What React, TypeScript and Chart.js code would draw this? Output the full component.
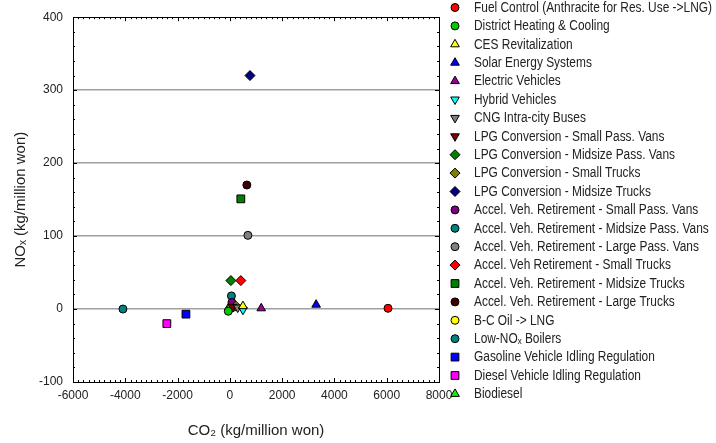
import { useEffect, useRef } from 'react';
import { Chart, registerables } from 'chart.js';
import { drawPoint } from 'chart.js/helpers';

Chart.register(...registerables);

const seriesNames = [
  'Fuel Control (Anthracite for Res. Use ->LNG)',
  'District Heating & Cooling',
  'CES Revitalization',
  'Solar Energy Systems',
  'Electric Vehicles',
  'Hybrid Vehicles',
  'CNG Intra-city Buses',
  'LPG Conversion - Small Pass. Vans',
  'LPG Conversion - Midsize Pass. Vans',
  'LPG Conversion - Small Trucks',
  'LPG Conversion - Midsize Trucks',
  'Accel. Veh. Retirement - Small Pass. Vans',
  'Accel. Veh. Retirement - Midsize Pass. Vans',
  'Accel. Veh. Retirement - Large Pass. Vans',
  'Accel. Veh Retirement - Small Trucks',
  'Accel. Veh. Retirement - Midsize Trucks',
  'Accel. Veh. Retirement - Large Trucks',
  'B-C Oil -> LNG',
  'Low-NOₓ Boilers',
  'Gasoline Vehicle Idling Regulation',
  'Diesel Vehicle Idling Regulation',
  'Biodiesel',
];

// CO2 (kg/million won)
const co2Values = [6050, -60, 500, 3300, 1200, 500, 300, 100, 40, 230, 770, 80, 60, 690, 420, 420, 650, 50, -4090, -1680, -2410, -40];
// NOx (kg/million won)
const noxValues = [1, -3, 4, 6, 1, -1, 2, 3, 39, 4, 320, 9, 18, 101, 39, 151, 170, 1, 0, -7, -20, 2];

const xTickValues = [-6000, -4000, -2000, 0, 2000, 4000, 6000, 8000];
const yTickValues = [-100, 0, 100, 200, 300, 400];
const yGridValues = [0, 100, 200, 300];

const markerColors = [
  '#ff0000', '#00cc00', '#ffff00', '#0000ff', '#990099', '#00ffff', '#808080', '#800000',
  '#008000', '#808000', '#000080', '#800080', '#008080', '#808080', '#ff0000', '#008000',
  '#400000', '#ffff00', '#008080', '#0000ff', '#ff00ff', '#00ff00',
];
const markerShapes = [
  'circle', 'circle', 'triangle', 'triangle', 'triangle', 'triangle', 'triangle', 'triangle',
  'rectRot', 'rectRot', 'rectRot', 'circle', 'circle', 'circle', 'rectRot', 'rect',
  'circle', 'circle', 'circle', 'rect', 'rect', 'triangle',
];
const markerRotations = [0, 0, 0, 0, 0, 180, 180, 180, 0, 0, 0, 0, 0, 0, 0, 0, 0, 0, 0, 0, 0, 0];

const FONT = "'Liberation Sans', Arial, sans-serif";

function markerRadius(shape: string) {
  if (shape === 'rect') return 5.5;
  if (shape === 'rectRot') return 5;
  if (shape === 'triangle') return 5;
  return 4;
}

const framePlugin = {
  id: 'frameTicks',
  beforeDatasetsDraw(chart: any) {
    const { ctx, chartArea } = chart;
    const xs = chart.scales.x;
    const ys = chart.scales.y;
    const { left, right, top, bottom } = chartArea;
    ctx.save();
    ctx.strokeStyle = '#000';
    ctx.lineWidth = 1;
    ctx.strokeRect(Math.round(left) + 0.5, Math.round(top) + 0.5, Math.round(right - left), Math.round(bottom - top));
    ctx.beginPath();
    for (let v = -6000; v <= 8000; v += 200) {
      const px = Math.round(xs.getPixelForValue(v)) + 0.5;
      const len = v % 2000 === 0 ? 4 : 2;
      ctx.moveTo(px, bottom);
      ctx.lineTo(px, bottom - len);
      ctx.moveTo(px, top);
      ctx.lineTo(px, top + len);
    }
    for (let v = -100; v <= 400; v += 20) {
      const py = Math.round(ys.getPixelForValue(v)) + 0.5;
      const len = v % 100 === 0 ? 4 : 2;
      ctx.moveTo(left, py);
      ctx.lineTo(left + len, py);
      ctx.moveTo(right, py);
      ctx.lineTo(right - len, py);
    }
    ctx.stroke();
    ctx.restore();
  },
};

const legendPlugin = {
  id: 'sideLegend',
  afterDraw(chart: any) {
    const { ctx } = chart;
    ctx.save();
    ctx.font = `14px ${FONT}`;
    const refWidth = ctx.measureText(seriesNames[0]).width;
    const squeeze = Math.min(1, 238 / refWidth);
    chart.data.datasets.forEach((ds: any, i: number) => {
      const y = 7.5 + i * 18.4;
      ctx.fillStyle = ds.backgroundColor;
      ctx.strokeStyle = ds.borderColor;
      ctx.lineWidth = 1;
      drawPoint(ctx, { pointStyle: ds.pointStyle, radius: ds.pointRadius, rotation: ds.pointRotation, borderWidth: 1 } as any, 455, y);
      ctx.save();
      ctx.translate(474, y + 0.5);
      ctx.scale(squeeze, 1);
      ctx.fillStyle = '#222';
      ctx.font = `14px ${FONT}`;
      ctx.textBaseline = 'middle';
      ctx.textAlign = 'left';
      ctx.fillText(ds.label, 0, 0);
      ctx.restore();
    });
    ctx.restore();
  },
};

export default function App() {
  const canvasRef = useRef<HTMLCanvasElement | null>(null);

  useEffect(() => {
    const canvas = canvasRef.current;
    if (!canvas) return;
    const datasets = seriesNames.map((name, i) => ({
      label: name,
      data: [{ x: co2Values[i], y: noxValues[i] }],
      backgroundColor: markerColors[i],
      borderColor: '#000',
      borderWidth: 1,
      pointStyle: markerShapes[i],
      pointRadius: markerRadius(markerShapes[i]),
      pointRotation: markerRotations[i],
    }));
    const chart = new Chart(canvas, {
      type: 'scatter',
      data: { datasets },
      plugins: [framePlugin, legendPlugin],
      options: {
        animation: false,
        responsive: false,
        maintainAspectRatio: false,
        layout: { padding: { top: 11, right: 277, left: 0, bottom: 0 } },
        plugins: { legend: { display: false }, tooltip: { enabled: false } },
        scales: {
          x: {
            type: 'linear',
            min: -6000,
            max: 8000,
            afterFit: (s: any) => { s.height = 61; },
            afterBuildTicks: (s: any) => { s.ticks = xTickValues.map((v) => ({ value: v })); },
            grid: { display: false, drawTicks: false },
            border: { display: false },
            ticks: { color: '#222', font: { family: FONT, size: 12 }, padding: 6, maxRotation: 0, autoSkip: false, callback: (v: any) => String(v) },
            title: { display: true, text: 'CO₂ (kg/million won)', color: '#222', font: { family: FONT, size: 15 }, padding: { top: 0, bottom: 3 } },
          },
          y: {
            type: 'linear',
            min: -100,
            max: 400,
            afterFit: (s: any) => { s.width = 73; },
            afterBuildTicks: (s: any) => { s.ticks = yTickValues.map((v) => ({ value: v })); },
            grid: {
              drawTicks: false,
              color: (c: any) => (yGridValues.includes(c.tick?.value) ? '#a0a0a0' : 'rgba(0,0,0,0)'),
              lineWidth: 1.5,
            },
            border: { display: false },
            ticks: { color: '#222', font: { family: FONT, size: 12 }, padding: 10, callback: (v: any) => String(v) },
            title: { display: true, text: 'NOₓ (kg/million won)', color: '#222', font: { family: FONT, size: 15 }, padding: { top: 12, bottom: 0 } },
          },
        },
      },
    } as any);
    return () => chart.destroy();
  }, []);

  return (
    <div style={{ position: 'fixed', left: 0, top: 0, width: 716, height: 443, background: '#fff' }}>
      <canvas ref={canvasRef} width={716} height={443} style={{ display: 'block', width: 716, height: 443 }} />
    </div>
  );
}
